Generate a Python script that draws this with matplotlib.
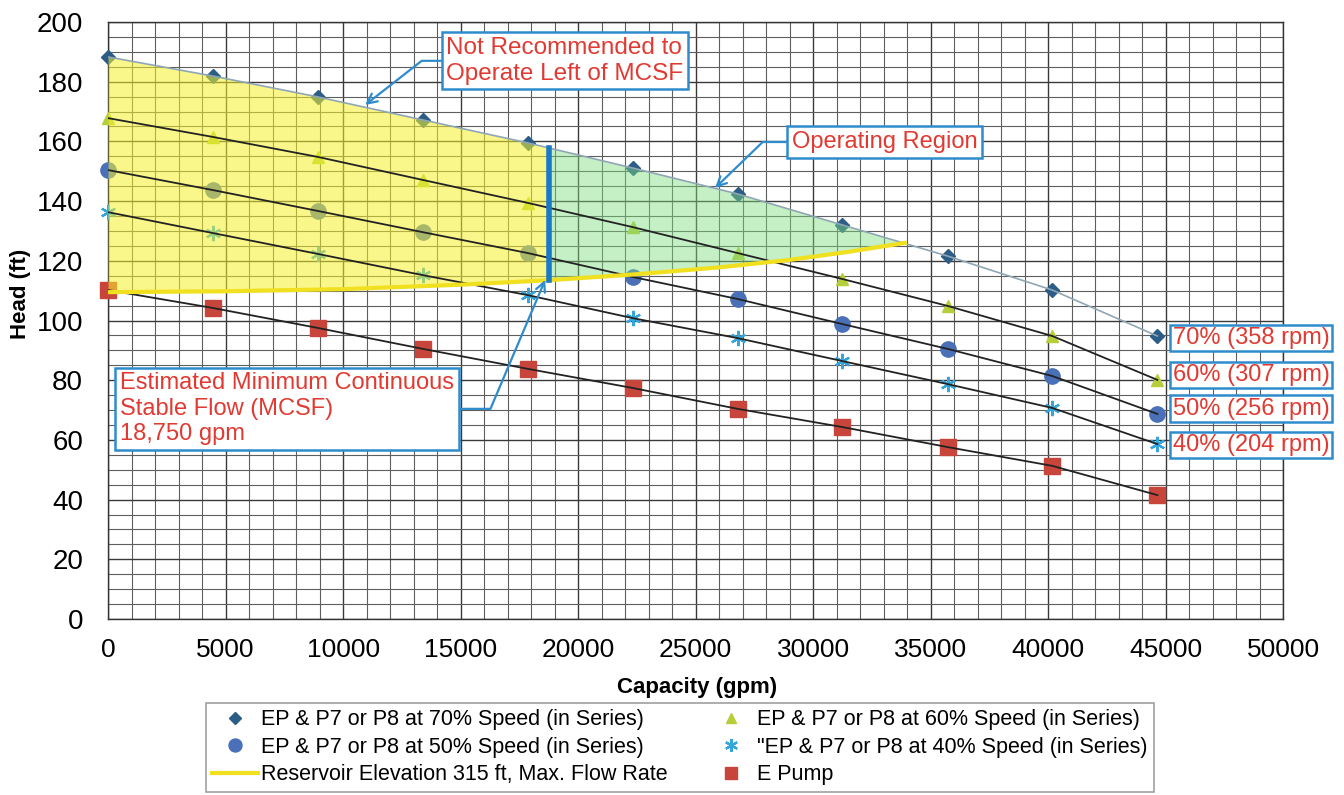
import numpy as np
import matplotlib
matplotlib.use("Agg")
import matplotlib.pyplot as plt
from matplotlib import font_manager
from matplotlib.ticker import MultipleLocator

# capacity (gpm) at each test point
capacity = [0, 4460, 8930, 13390, 17860, 22320, 26790, 31250, 35720, 40180, 44650]

head_70 = [188.3, 181.9, 174.9, 167.2, 159.5, 151.1, 142.4, 132.0, 121.6, 110.2, 94.8]
head_60 = [167.8, 161.5, 154.8, 147.1, 139.4, 131.3, 122.6, 113.9, 104.9, 94.8, 80.1]
head_50 = [150.4, 143.7, 136.7, 129.6, 122.6, 114.6, 107.2, 98.8, 90.5, 81.4, 68.7]
head_40 = [136.3, 129.3, 122.3, 115.2, 108.5, 100.8, 94.1, 86.4, 78.7, 70.7, 58.6]
head_e = [110.2, 104.2, 97.5, 90.5, 83.8, 77.4, 70.4, 64.3, 57.6, 51.3, 41.5]

# reservoir elevation 315 ft, max flow rate curve
res_q = [0, 5000, 10000, 15000, 18750, 22500, 26000, 29000, 31500, 33900]
res_h = [109.5, 109.8, 110.5, 112.0, 113.5, 115.5, 117.8, 120.3, 123.0, 126.0]

MCSF = 18750

legend_labels = [
    "EP & P7 or P8 at 70% Speed (in Series)",
    "EP & P7 or P8 at 60% Speed (in Series)",
    "EP & P7 or P8 at 50% Speed (in Series)",
    "\"EP & P7 or P8 at 40% Speed (in Series)",
    "Reservoir Elevation 315 ft, Max. Flow Rate",
    "E Pump",
]
speed_labels = ["70% (358 rpm)", "60% (307 rpm)", "50% (256 rpm)", "40% (204 rpm)"]
speed_label_heads = [94.1, 81.7, 70.4, 58.3]


def pick_font(names):
    for n in names:
        try:
            font_manager.findfont(n, fallback_to_default=False)
            return n
        except Exception:  # noqa: BLE001
            continue
    return "DejaVu Sans"


BASE_FONT = pick_font(["Liberation Sans", "Arial"])
plt.rcParams["font.family"] = [BASE_FONT, "DejaVu Sans"]

RED = "#e03a32"
BLUE = "#2f8ccc"

fig = plt.figure(figsize=(13.44, 7.95), dpi=100)
ax = fig.add_axes([0.0804, 0.2214, 0.8743, 0.7509])
ax.set_xlim(0, 50000)
ax.set_ylim(0, 200)

ax.xaxis.set_major_locator(MultipleLocator(5000))
ax.xaxis.set_minor_locator(MultipleLocator(1000))
ax.yaxis.set_major_locator(MultipleLocator(20))
ax.yaxis.set_minor_locator(MultipleLocator(5))
ax.grid(which="major", color="#3a3a3a", linewidth=1.0)
ax.grid(which="minor", color="#5e5e5e", linewidth=0.8)
ax.set_axisbelow(True)
ax.tick_params(which="both", length=0)
ax.tick_params(axis="y", labelsize=20, pad=18)
ax.tick_params(axis="x", labelsize=19, pad=14)
for s in ax.spines.values():
    s.set_color("#333333")
    s.set_linewidth(1.0)

# curve lines
ax.plot(capacity, head_70, color="#8fa6b4", linewidth=1.2, zorder=4.5)
for h in (head_60, head_50, head_40, head_e):
    ax.plot(capacity, h, color="#222222", linewidth=1.3, zorder=4.5)
ax.plot(res_q, res_h, color="#f0e020", linewidth=3, zorder=4.6)

# markers
m70, = ax.plot(capacity, head_70, linestyle="none", marker="D", markersize=7,
               color="#2b5d86", clip_on=False, zorder=3)
m60, = ax.plot(capacity, head_60, linestyle="none", marker="^", markersize=9,
               color="#b5cf3a", clip_on=False, zorder=3)
m50, = ax.plot(capacity, head_50, linestyle="none", marker="o", markersize=11,
               color="#4a70b8", clip_on=False, zorder=3)
m40, = ax.plot(capacity, head_40, linestyle="none", marker=(6, 2, 0), markersize=11,
               markeredgewidth=1.6, color="#35a6dc", clip_on=False, zorder=3)
me, = ax.plot(capacity, head_e, linestyle="none", marker="s", markersize=11,
              color="#c8453b", clip_on=False, zorder=3)
mres, = ax.plot([], [], color="#f0e020", linewidth=3)

# not-recommended (yellow) and operating (green) regions
q_left = np.linspace(0, MCSF, 200)
ax.fill_between(q_left, np.interp(q_left, res_q, res_h), np.interp(q_left, capacity, head_70),
                color="#f6f22a", alpha=0.55, linewidth=0, zorder=4)
q_right = np.linspace(MCSF, res_q[-1], 200)
ax.fill_between(q_right, np.interp(q_right, res_q, res_h), np.interp(q_right, capacity, head_70),
                color="#7fdc7f", alpha=0.45, linewidth=0, zorder=4)
ax.plot([MCSF, MCSF], [np.interp(MCSF, res_q, res_h), np.interp(MCSF, capacity, head_70)],
        color="#1a78c8", linewidth=4, zorder=5)

box = dict(boxstyle="square,pad=0.2", facecolor="white", edgecolor=BLUE, linewidth=1.8)
arrow = dict(arrowstyle="->", color=BLUE, linewidth=1.6, shrinkA=0, shrinkB=0)

ax.annotate("Not Recommended to\nOperate Left of MCSF", xy=(10940, 172.2), xytext=(14400, 187.0),
            ha="left", va="center", color=RED, fontsize=17.5, bbox=box, zorder=6,
            arrowprops=dict(arrow, connectionstyle="angle,angleA=180,angleB=38,rad=0",
                            relpos=(0, 0.5)))
ax.annotate("Operating Region", xy=(25830, 144.4), xytext=(29100, 159.8),
            ha="left", va="center", color=RED, fontsize=17, bbox=box, zorder=6,
            arrowprops=dict(arrow, connectionstyle="angle,angleA=180,angleB=44,rad=0",
                            relpos=(0, 0.5)))
ax.annotate("Estimated Minimum Continuous\nStable Flow (MCSF)\n18,750 gpm",
            xy=(18600, 113.6), xytext=(500, 70.4),
            ha="left", va="center", color=RED, fontsize=17, bbox=box, zorder=6,
            linespacing=1.2,
            arrowprops=dict(arrow, connectionstyle="angle,angleA=0,angleB=-113,rad=0",
                            relpos=(1, 0.5)))

for lab, h in zip(speed_labels, speed_label_heads):
    ax.text(45300, h, lab, ha="left", va="center", color=RED, fontsize=17,
            bbox=dict(boxstyle="square,pad=0.1", facecolor="white", edgecolor=BLUE, linewidth=1.8),
            zorder=6, clip_on=False)

ax.set_ylabel("Head (ft)", fontsize=16, fontweight="bold")
ax.yaxis.set_label_coords(-0.066, 0.544)
ax.set_xlabel("Capacity (gpm)", fontsize=16, fontweight="bold")
ax.xaxis.set_label_coords(0.501, -0.098)

handles = [m70, m50, mres, m60, m40, me]
labels = [legend_labels[0], legend_labels[2], legend_labels[4],
          legend_labels[1], legend_labels[3], legend_labels[5]]
leg = fig.legend(handles, labels, ncol=2, loc="upper left", bbox_to_anchor=(0.1533, 0.1157),
                 fontsize=15.5, frameon=True, fancybox=False, edgecolor="#888888",
                 handlelength=2.1, handletextpad=0.15, columnspacing=1.9,
                 labelspacing=0.3, borderpad=0.3, borderaxespad=0, markerscale=0.85)
leg.get_frame().set_linewidth(1.2)

fig.savefig("out.png", dpi=100)
